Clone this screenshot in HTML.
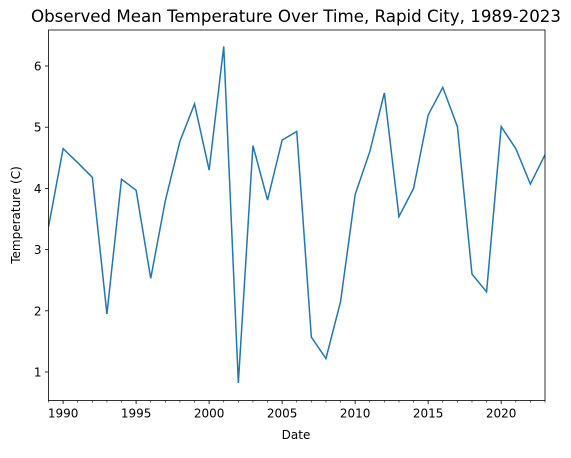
<!DOCTYPE html>
<html><head><meta charset="utf-8"><style>
body{margin:0;background:#fff;}
svg text{font-family:"DejaVu Sans","Liberation Sans",sans-serif;fill:#000;}
</style></head><body>
<svg id="chart" width="571" height="453" xmlns="http://www.w3.org/2000/svg">
<text x="296" y="22" font-size="14" text-anchor="middle" textLength="530" lengthAdjust="spacingAndGlyphs" style="font-size:16.4px">Observed Mean Temperature Over Time, Rapid City, 1989-2023</text>
<g id="plot"></g>
<text x="296" y="439" font-size="12" text-anchor="middle">Date</text>
<text transform="translate(20,215) rotate(-90)" font-size="12" text-anchor="middle">Temperature (C)</text>
</svg>
<script>
const years=[1989,1990,1991,1992,1993,1994,1995,1996,1997,1998,1999,2000,2001,2002,2003,2004,2005,2006,2007,2008,2009,2010,2011,2012,2013,2014,2015,2016,2017,2018,2019,2020,2021,2022,2023];
const temps=[3.37,4.65,4.42,4.18,1.95,4.15,3.97,2.53,3.8,4.77,5.38,4.3,6.32,0.82,4.7,3.81,4.79,4.93,1.57,1.22,2.15,3.9,4.6,5.56,3.54,4.0,5.2,5.65,5.01,2.6,2.31,5.01,4.65,4.07,4.55];
const xTicks=[1990,1995,2000,2005,2010,2015,2020];
const yTicks=[1,2,3,4,5,6];
const L=48.5,R=545,T=30,B=400.5;
const x=v=>L+(v-1989)/(2023-1989)*(R-L);
const y=v=>372-(v-1)*61.2;
const NS='http://www.w3.org/2000/svg';
const g=document.getElementById('plot');
function mk(t,a){const e=document.createElementNS(NS,t);for(const k in a)e.setAttribute(k,a[k]);g.appendChild(e);return e;}
const clip=mk('clipPath',{id:'c'});
const cr=document.createElementNS(NS,'rect');cr.setAttribute('x',L);cr.setAttribute('y',T);cr.setAttribute('width',R-L);cr.setAttribute('height',B-T);clip.appendChild(cr);
const line=mk('polyline',{points:years.map((yr,i)=>x(yr)+','+y(temps[i])).join(' '),fill:'none',stroke:'#1f77b4','stroke-width':1.5,'clip-path':'url(#c)'});


for(let yr=1989;yr<=2023;yr++){const t=mk('line',{x1:x(yr),x2:x(yr),y1:B,y2:B+2,stroke:'#000','stroke-width':0.6});}
xTicks.forEach(v=>{const t=mk('line',{x1:x(v),x2:x(v),y1:B,y2:B+3.5,stroke:'#000','stroke-width':0.8});
const l=mk('text',{x:x(v),y:B+17,'font-size':12,'text-anchor':'middle'});l.textContent=v;});
yTicks.forEach(v=>{const t=mk('line',{x1:L-3.5,x2:L,y1:y(v),y2:y(v),stroke:'#000','stroke-width':0.8});
const l=mk('text',{x:L-7,y:y(v)+4.5,'font-size':12,'text-anchor':'end'});l.textContent=v;});
const f=mk('rect',{x:L,y:T,width:R-L,height:B-T,fill:'none',stroke:'#000','stroke-width':0.8});


</script>
</body></html>
